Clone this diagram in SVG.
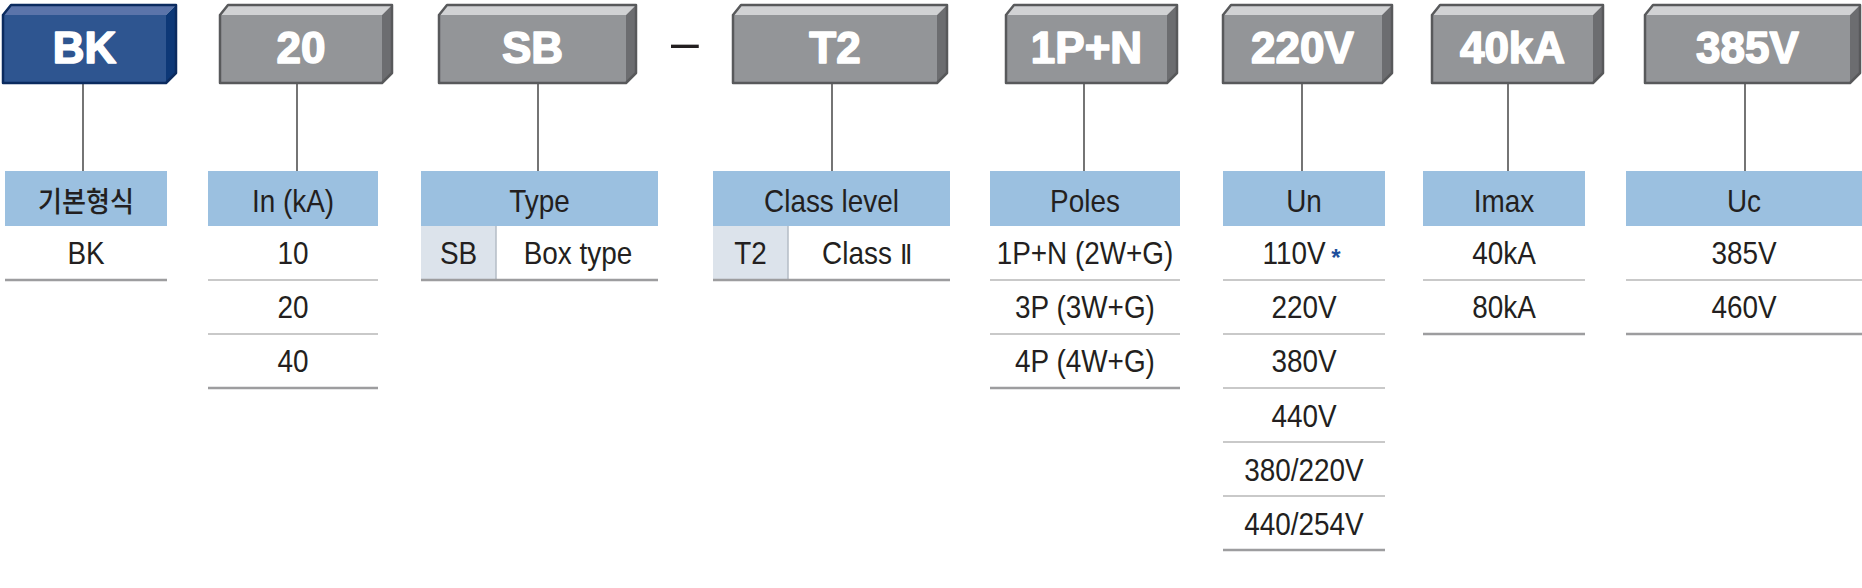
<svg xmlns="http://www.w3.org/2000/svg" width="1862" height="588" viewBox="0 0 1862 588">
<style>
.bg{fill:#ffffff}
.gf{fill:#939598}.gt{fill:#d1d2d4}.gr{fill:#6c6d70}.go{fill:none;stroke:#58595b;stroke-width:2.5;stroke-linejoin:round}
.bf{fill:#2e5590}.bt{fill:#5b74aa}.br{fill:#0d3877}.bo{fill:none;stroke:#0b2b5f;stroke-width:2.5;stroke-linejoin:round}
.bx{font-family:"Liberation Sans",Arial,sans-serif;font-weight:bold;font-size:44px;fill:#ffffff;text-anchor:middle;stroke:#ffffff;stroke-width:1.6;stroke-linejoin:round}
.hd{fill:#9bc0e0}
.sc{fill:#dce3eb}
.t{font-family:"Liberation Sans",Arial,"Noto Sans CJK KR",sans-serif;font-size:31px;fill:#231f20;text-anchor:middle}
.k{font-family:"Noto Sans CJK KR","Noto Sans CJK SC",sans-serif;font-size:29px;font-weight:500;fill:#231f20;text-anchor:middle}
.rn{font-family:"Liberation Serif","Times New Roman",serif;font-size:28px}
.ln{stroke:#c9c9c9;stroke-width:2}
.lb{stroke:#9d9d9f;stroke-width:2.5}
.cn{stroke:#3a3a3a;stroke-width:1.4;fill:none}
.ast{font-family:"Liberation Sans",Arial,sans-serif;font-size:24px;font-weight:bold;fill:#1d4f9c;text-anchor:middle}
.dash{font-family:"Liberation Sans",Arial,sans-serif;font-size:50px;fill:#231f20;text-anchor:middle}
</style>
<rect class="bg" x="0" y="0" width="1862" height="588"/>

<g id="connectors">
<line class="cn" x1="83" y1="83" x2="83" y2="171"/>
<line class="cn" x1="297" y1="83" x2="297" y2="171"/>
<line class="cn" x1="538" y1="83" x2="538" y2="171"/>
<line class="cn" x1="832" y1="83" x2="832" y2="171"/>
<line class="cn" x1="1084" y1="83" x2="1084" y2="171"/>
<line class="cn" x1="1302" y1="83" x2="1302" y2="171"/>
<line class="cn" x1="1508" y1="83" x2="1508" y2="171"/>
<line class="cn" x1="1745" y1="83" x2="1745" y2="171"/>
</g>

<g id="box-bk">
<rect class="bf" x="3" y="15" width="163" height="68"/>
<polygon class="bt" points="3,15 11,5 176,5 166,15"/>
<polygon class="br" points="166,15 176,5 176,73 166,83"/>
<polygon class="bo" points="3,15 11,5 176,5 176,73 166,83 3,83"/>
<text class="bx" x="84.5" y="63">BK</text>
</g>
<g id="box-20">
<rect class="gf" x="220" y="15" width="162" height="68"/>
<polygon class="gt" points="220,15 228,5 392,5 382,15"/>
<polygon class="gr" points="382,15 392,5 392,73 382,83"/>
<polygon class="go" points="220,15 228,5 392,5 392,73 382,83 220,83"/>
<text class="bx" x="301" y="63">20</text>
</g>
<g id="box-sb">
<rect class="gf" x="439" y="15" width="187" height="68"/>
<polygon class="gt" points="439,15 447,5 636,5 626,15"/>
<polygon class="gr" points="626,15 636,5 636,73 626,83"/>
<polygon class="go" points="439,15 447,5 636,5 636,73 626,83 439,83"/>
<text class="bx" x="532.5" y="63">SB</text>
</g>
<g id="dash">
<text class="dash" x="685" y="59">–</text>
</g>
<g id="box-t2">
<rect class="gf" x="733" y="15" width="204" height="68"/>
<polygon class="gt" points="733,15 741,5 947,5 937,15"/>
<polygon class="gr" points="937,15 947,5 947,73 937,83"/>
<polygon class="go" points="733,15 741,5 947,5 947,73 937,83 733,83"/>
<text class="bx" x="835" y="63">T2</text>
</g>
<g id="box-1pn">
<rect class="gf" x="1006" y="15" width="161" height="68"/>
<polygon class="gt" points="1006,15 1014,5 1177,5 1167,15"/>
<polygon class="gr" points="1167,15 1177,5 1177,73 1167,83"/>
<polygon class="go" points="1006,15 1014,5 1177,5 1177,73 1167,83 1006,83"/>
<text class="bx" x="1086.5" y="63">1P+N</text>
</g>
<g id="box-220v">
<rect class="gf" x="1223" y="15" width="159" height="68"/>
<polygon class="gt" points="1223,15 1231,5 1392,5 1382,15"/>
<polygon class="gr" points="1382,15 1392,5 1392,73 1382,83"/>
<polygon class="go" points="1223,15 1231,5 1392,5 1392,73 1382,83 1223,83"/>
<text class="bx" x="1302.5" y="63">220V</text>
</g>
<g id="box-40ka">
<rect class="gf" x="1432" y="15" width="161" height="68"/>
<polygon class="gt" points="1432,15 1440,5 1603,5 1593,15"/>
<polygon class="gr" points="1593,15 1603,5 1603,73 1593,83"/>
<polygon class="go" points="1432,15 1440,5 1603,5 1603,73 1593,83 1432,83"/>
<text class="bx" x="1512.5" y="63">40kA</text>
</g>
<g id="box-385v">
<rect class="gf" x="1645" y="15" width="205" height="68"/>
<polygon class="gt" points="1645,15 1653,5 1860,5 1850,15"/>
<polygon class="gr" points="1850,15 1860,5 1860,73 1850,83"/>
<polygon class="go" points="1645,15 1653,5 1860,5 1860,73 1850,83 1645,83"/>
<text class="bx" x="1747.5" y="63">385V</text>
</g>

<g id="table-basic">
<rect class="hd" x="5" y="171" width="162" height="55"/>
<text class="k" transform="translate(86 212) scale(.9 1)">기본형식</text>
<text class="t" transform="translate(86 264) scale(.9 1)">BK</text>
<line class="lb" x1="5" y1="280" x2="167" y2="280"/>
</g>

<g id="table-in">
<rect class="hd" x="208" y="171" width="170" height="55"/>
<text class="t" transform="translate(293 212) scale(.9 1)">In (kA)</text>
<text class="t" transform="translate(293 264) scale(.9 1)">10</text>
<line class="ln" x1="208" y1="280" x2="378" y2="280"/>
<text class="t" transform="translate(293 318) scale(.9 1)">20</text>
<line class="ln" x1="208" y1="334" x2="378" y2="334"/>
<text class="t" transform="translate(293 372) scale(.9 1)">40</text>
<line class="lb" x1="208" y1="388" x2="378" y2="388"/>
</g>

<g id="table-type">
<rect class="hd" x="421" y="171" width="237" height="55"/>
<text class="t" transform="translate(539.5 212) scale(.9 1)">Type</text>
<rect class="sc" x="421" y="226" width="75" height="54"/>
<line x1="496" y1="226" x2="496" y2="280" stroke="#b4bcc6" stroke-width="1.5"/>
<text class="t" transform="translate(458.5 264) scale(.9 1)">SB</text>
<text class="t" transform="translate(578 264) scale(.9 1)">Box type</text>
<line class="lb" x1="421" y1="280" x2="658" y2="280"/>
</g>

<g id="table-class">
<rect class="hd" x="713" y="171" width="237" height="55"/>
<text class="t" transform="translate(831.5 212) scale(.9 1)">Class level</text>
<rect class="sc" x="713" y="226" width="75" height="54"/>
<line x1="788" y1="226" x2="788" y2="280" stroke="#b4bcc6" stroke-width="1.5"/>
<text class="t" transform="translate(750.5 264) scale(.9 1)">T2</text>
<text class="t" transform="translate(867 264) scale(.9 1)">Class <tspan class="rn">Ⅱ</tspan></text>
<line class="lb" x1="713" y1="280" x2="950" y2="280"/>
</g>

<g id="table-poles">
<rect class="hd" x="990" y="171" width="190" height="55"/>
<text class="t" transform="translate(1085 212) scale(.9 1)">Poles</text>
<text class="t" transform="translate(1085 264) scale(.9 1)">1P+N (2W+G)</text>
<line class="ln" x1="990" y1="280" x2="1180" y2="280"/>
<text class="t" transform="translate(1085 318) scale(.9 1)">3P (3W+G)</text>
<line class="ln" x1="990" y1="334" x2="1180" y2="334"/>
<text class="t" transform="translate(1085 372) scale(.9 1)">4P (4W+G)</text>
<line class="lb" x1="990" y1="388" x2="1180" y2="388"/>
</g>

<g id="table-un">
<rect class="hd" x="1223" y="171" width="162" height="55"/>
<text class="t" transform="translate(1304 212) scale(.9 1)">Un</text>
<text class="t" transform="translate(1294 264) scale(.9 1)">110V</text>
<text class="ast" x="1336" y="266">*</text>
<line class="ln" x1="1223" y1="280" x2="1385" y2="280"/>
<text class="t" transform="translate(1304 318) scale(.9 1)">220V</text>
<line class="ln" x1="1223" y1="334" x2="1385" y2="334"/>
<text class="t" transform="translate(1304 372) scale(.9 1)">380V</text>
<line class="ln" x1="1223" y1="388" x2="1385" y2="388"/>
<text class="t" transform="translate(1304 427) scale(.9 1)">440V</text>
<line class="ln" x1="1223" y1="442" x2="1385" y2="442"/>
<text class="t" transform="translate(1304 481) scale(.9 1)">380/220V</text>
<line class="ln" x1="1223" y1="496" x2="1385" y2="496"/>
<text class="t" transform="translate(1304 535) scale(.9 1)">440/254V</text>
<line class="lb" x1="1223" y1="550" x2="1385" y2="550"/>
</g>

<g id="table-imax">
<rect class="hd" x="1423" y="171" width="162" height="55"/>
<text class="t" transform="translate(1504 212) scale(.9 1)">Imax</text>
<text class="t" transform="translate(1504 264) scale(.9 1)">40kA</text>
<line class="ln" x1="1423" y1="280" x2="1585" y2="280"/>
<text class="t" transform="translate(1504 318) scale(.9 1)">80kA</text>
<line class="lb" x1="1423" y1="334" x2="1585" y2="334"/>
</g>

<g id="table-uc">
<rect class="hd" x="1626" y="171" width="236" height="55"/>
<text class="t" transform="translate(1744 212) scale(.9 1)">Uc</text>
<text class="t" transform="translate(1744 264) scale(.9 1)">385V</text>
<line class="ln" x1="1626" y1="280" x2="1862" y2="280"/>
<text class="t" transform="translate(1744 318) scale(.9 1)">460V</text>
<line class="lb" x1="1626" y1="334" x2="1862" y2="334"/>
</g>
</svg>
